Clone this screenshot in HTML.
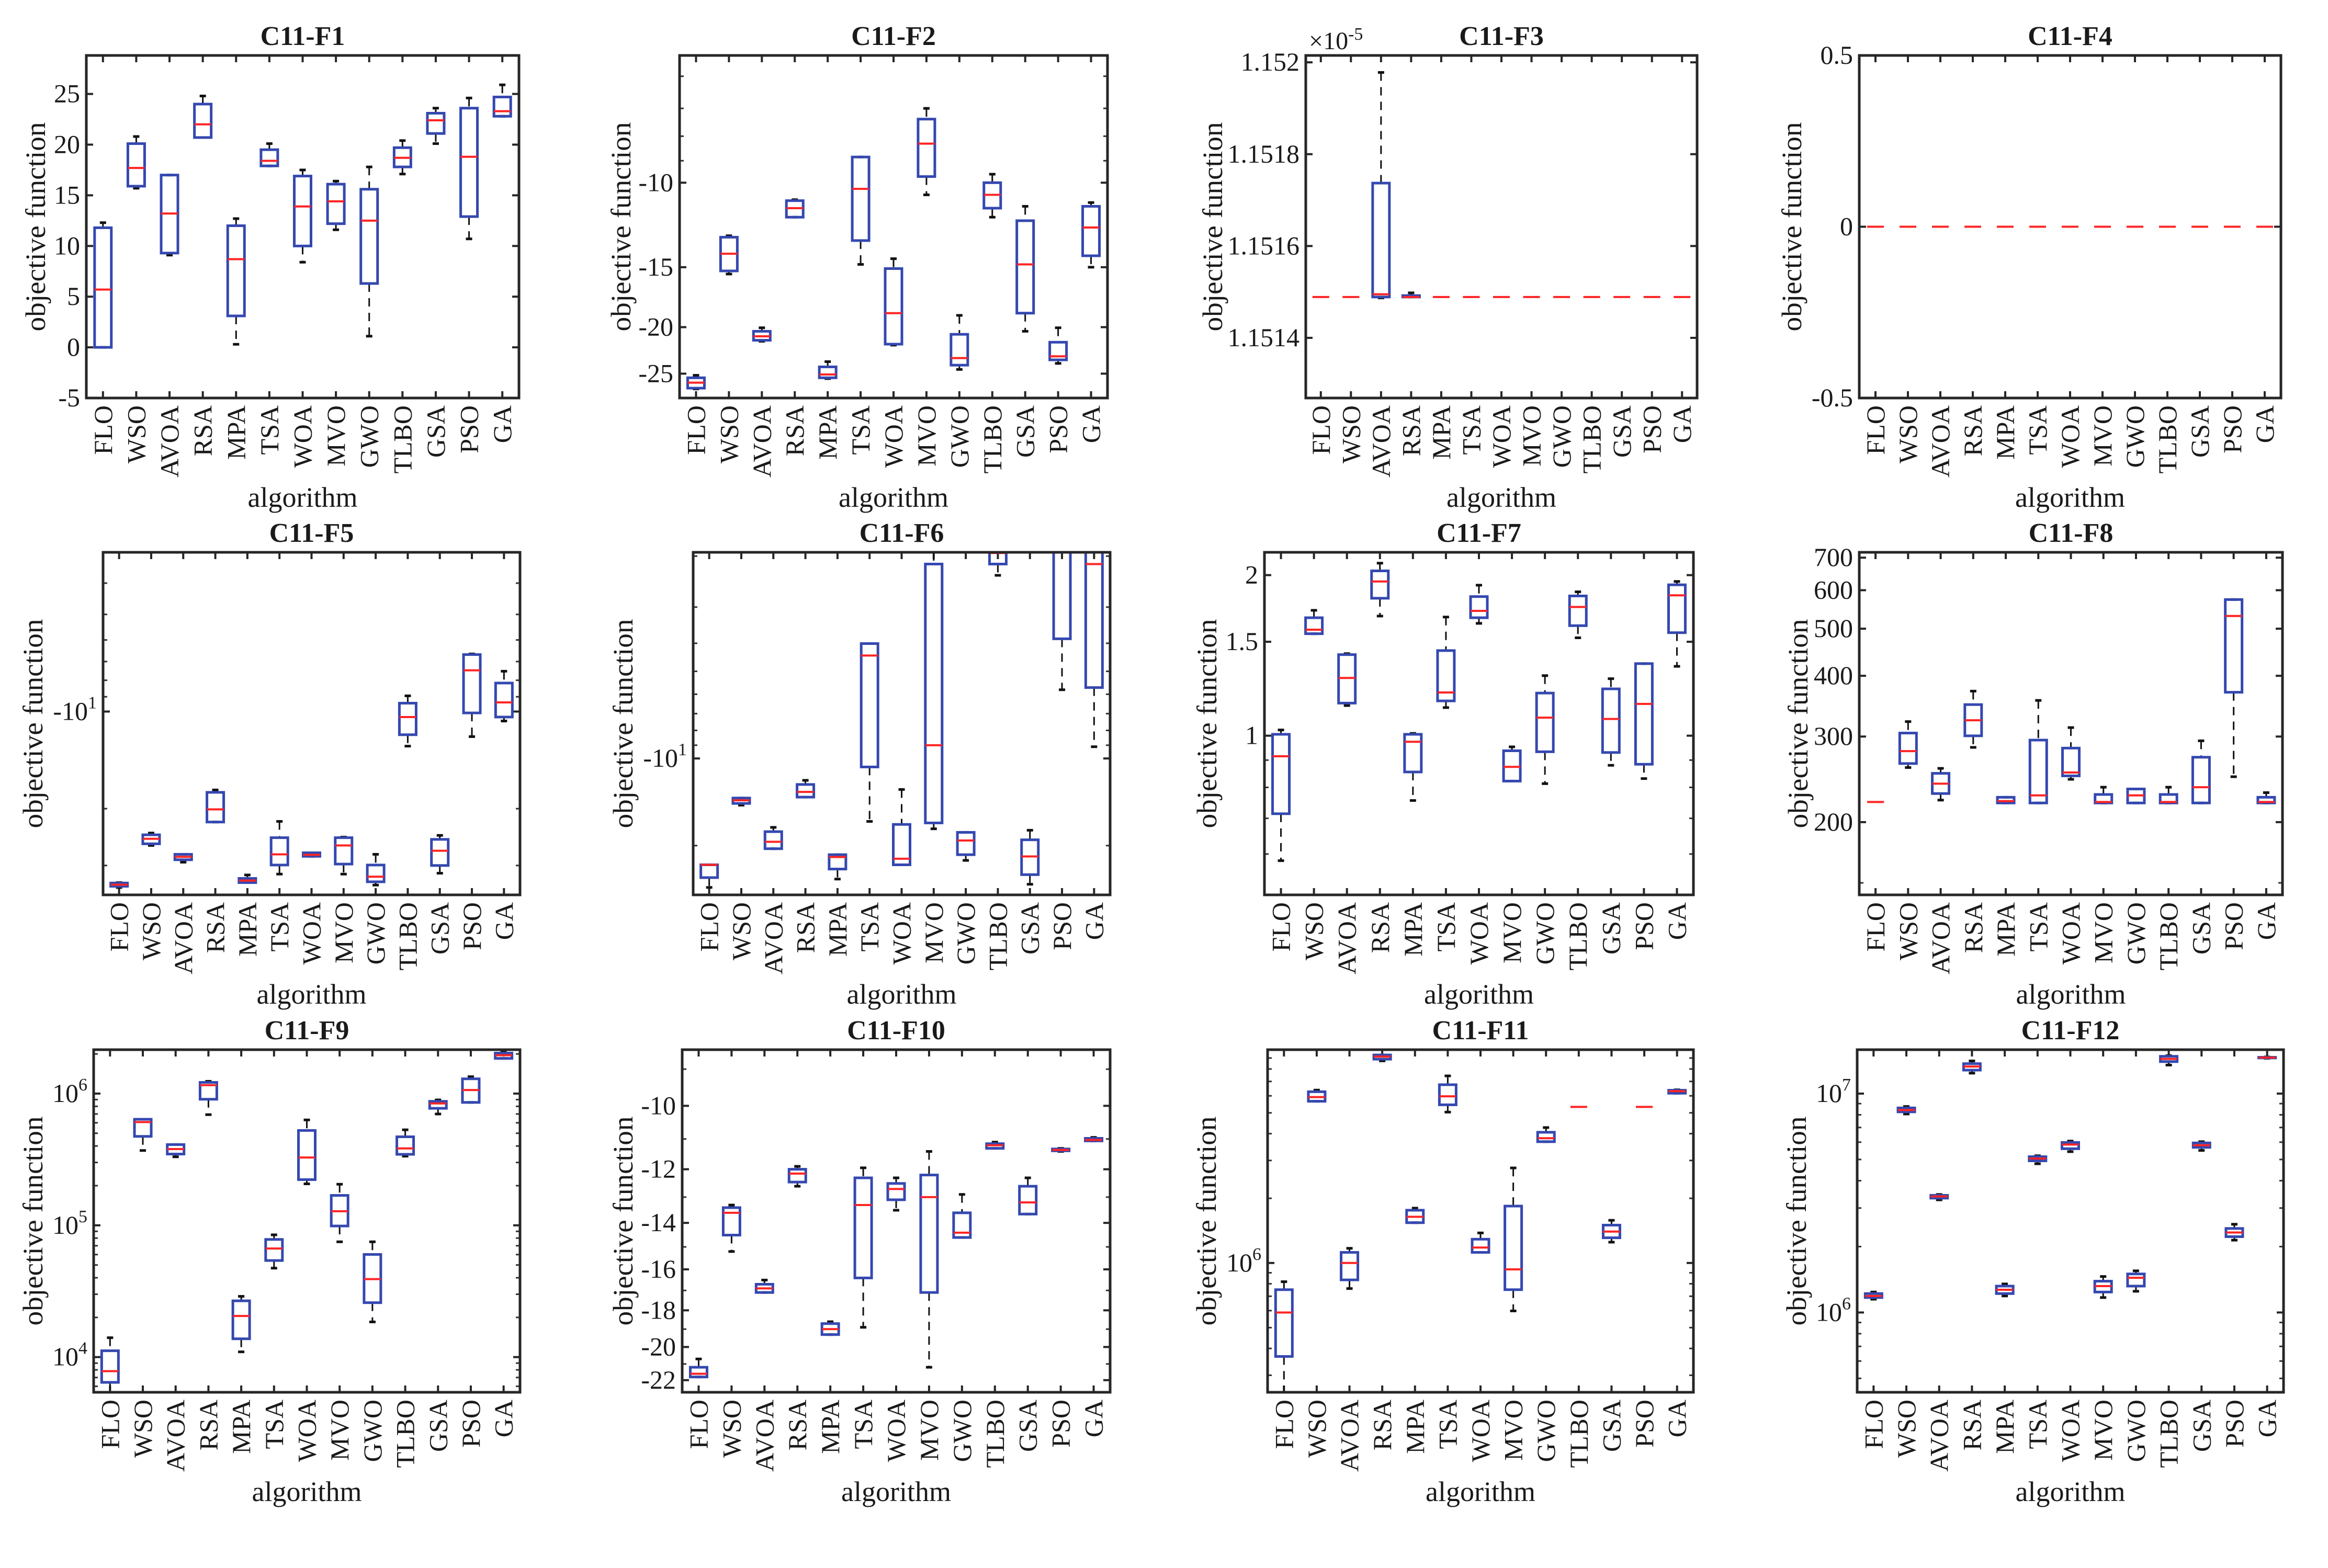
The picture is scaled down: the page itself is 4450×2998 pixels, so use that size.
<!DOCTYPE html>
<html><head><meta charset="utf-8"><style>
html,body{margin:0;padding:0;background:#fff;}
svg{display:block;}
text{font-family:"Liberation Serif",serif;fill:#1a1a1a;}
</style></head><body>
<svg id="fig" xmlns="http://www.w3.org/2000/svg" width="4450" height="2998" viewBox="0 0 4450 2998"></svg>
<script>
const categories=["FLO","WSO","AVOA","RSA","MPA","TSA","WOA","MVO","GWO","TLBO","GSA","PSO","GA"];

// C11-F1
const f1Low=[0,15.7,9.1,20.7,0.3,17.9,8.4,11.6,1.1,17.1,20.1,10.7,22.8];
const f1Q1=[0,15.9,9.3,20.7,3.1,17.9,10,12.2,6.3,17.8,21.1,12.9,22.8];
const f1Med=[5.7,17.7,13.2,22,8.7,18.4,13.9,14.4,12.5,18.7,22.4,18.8,23.3];
const f1Q3=[11.8,20.1,17,24,12,19.5,16.9,16.1,15.6,19.7,23.1,23.6,24.7];
const f1High=[12.3,20.8,17,24.8,12.7,20.1,17.5,16.4,17.8,20.4,23.6,24.6,25.9];
// C11-F2
const f2Low=[-26.9,-15.5,-21.4,-11.8,-25.6,-14.8,-21.8,-10.6,-24.5,-11.8,-20.4,-23.8,-15.0];
const f2Q1=[-26.8,-15.27,-21.3,-11.8,-25.5,-13.2,-21.7,-9.71,-24.0,-11.3,-18.7,-23.4,-14.2];
const f2Med=[-26.1,-14.06,-20.9,-11.3,-25.1,-10.3,-18.7,-8.29,-23.2,-10.6,-14.8,-23.0,-12.4];
const f2Q3=[-25.5,-12.99,-20.4,-10.9,-24.2,-8.84,-15.1,-7.37,-20.7,-10,-12,-21.5,-11.2];
const f2High=[-25.2,-12.9,-20.06,-10.85,-23.6,-8.84,-14.4,-7.0,-18.9,-9.6,-11.2,-20.06,-11.0];
// C11-F3
const f3Low=[1.151489,1.151489,1.151487,1.151489,1.151489,1.151489,1.151489,1.151489,1.151489,1.151489,1.151489,1.151489,1.151489];
const f3Q1=[1.151489,1.151489,1.151489,1.151489,1.151489,1.151489,1.151489,1.151489,1.151489,1.151489,1.151489,1.151489,1.151489];
const f3Med=[1.151489,1.151489,1.151495,1.151489,1.151489,1.151489,1.151489,1.151489,1.151489,1.151489,1.151489,1.151489,1.151489];
const f3Q3=[1.151489,1.151491,1.151737,1.151492,1.151489,1.151489,1.151489,1.151489,1.151489,1.151489,1.151489,1.151489,1.151489];
const f3High=[1.151489,1.151491,1.151978,1.151498,1.151489,1.151489,1.151489,1.151489,1.151489,1.151489,1.151489,1.151489,1.151489];
// C11-F4
const f4Low=[0,0,0,0,0,0,0,0,0,0,0,0,0];
const f4Q1=[0,0,0,0,0,0,0,0,0,0,0,0,0];
const f4Med=[0,0,0,0,0,0,0,0,0,0,0,0,0];
const f4Q3=[0,0,0,0,0,0,0,0,0,0,0,0,0];
const f4High=[0,0,0,0,0,0,0,0,0,0,0,0,0];
// C11-F5
const f5Low=[-35.1,-26.0,-29.3,-22.0,-33.9,-31.9,-28.1,-31.9,-34.5,-12.8,-31.7,-11.96,-10.7];
const f5Q1=[-34.8,-25.7,-28.8,-22.0,-33.9,-29.9,-28.1,-29.7,-33.7,-11.8,-30.0,-10.1,-10.4];
const f5Med=[-34.4,-24.8,-28.2,-20.1,-33.4,-27.7,-27.8,-26.0,-32.5,-10.4,-27.0,-7.45,-9.37];
const f5Q3=[-34.0,-24.1,-27.7,-17.8,-32.9,-24.6,-27.4,-24.6,-29.9,-9.42,-24.9,-6.66,-8.16];
const f5High=[-33.9,-23.8,-27.7,-17.5,-32.1,-21.9,-27.4,-24.5,-27.7,-8.94,-24.2,-6.63,-7.5];
// C11-F6
const f6Low=[-27.9,-14.5,-20.5,-13.6,-26.1,-16.5,-23.3,-17.5,-22.5,-2.33,-27.2,-5.79,-9.11];
const f6Q1=[-25.8,-14.3,-20.5,-13.6,-24.1,-10.7,-23.3,-16.7,-21.5,-2.13,-25.2,-3.86,-5.69];
const f6Med=[-23.3,-13.95,-19.4,-13.05,-21.9,-4.41,-22.2,-9.0,-19.2,-1.95,-21.8,-1.94,-2.13];
const f6Q3=[-23.3,-13.7,-17.9,-12.3,-21.5,-4.01,-16.9,-2.13,-18.0,-1.8,-19.1,-1.8,-1.8];
const f6High=[-23.3,-13.7,-17.3,-11.9,-21.5,-4.01,-12.8,-1.94,-18.0,-1.7,-17.7,-1.7,-1.7];
// C11-F7
const f7Low=[0.583,1.553,1.139,1.676,0.756,1.129,1.624,0.822,0.813,1.526,0.88,0.831,1.349];
const f7Q1=[0.714,1.553,1.151,1.81,0.855,1.162,1.664,0.822,0.933,1.608,0.93,0.884,1.56];
const f7Med=[0.915,1.58,1.283,1.946,0.974,1.205,1.714,0.874,1.081,1.743,1.075,1.147,1.833];
const f7Q3=[1.006,1.664,1.419,2.037,1.006,1.444,1.823,0.937,1.202,1.828,1.224,1.365,1.918];
const f7High=[1.025,1.718,1.425,2.106,1.01,1.669,1.915,0.953,1.296,1.861,1.279,1.365,1.946];
// C11-F8
const f8Low=[220,259,222,285,219,219,245,219,219,219,219,248,219];
const f8Q1=[220,264,229,301,219,219,249,219,219,219,219,370,219];
const f8Med=[220,280,240,324,221,227,253,220,227,220,236,531,220];
const f8Q3=[220,305,252,349,225,295,284,228,234,228,272,574,225];
const f8High=[220,322,258,372,225,356,313,236,234,236,294,574,230];
// C11-F9
const f9Low=[5000,369800,331100,691800,10960,47320,206500,74990,18490,335000,699800,857000,1849000];
const f9Q1=[6430,473200,347500,905700,13770,54080,222300,98860,25880,345900,772700,857000,1849000];
const f9Med=[7820,608100,379300,1159000,20510,66680,327300,127900,39080,383700,841400,1064000,1954000];
const f9Q3=[11170,638300,410200,1216000,26730,78160,524800,168700,60120,469900,873000,1294000,2028000];
const f9High=[14030,638300,410200,1239000,28910,84720,631000,205100,74990,530900,895400,1343000,2089000];
// C11-F10
const f10Low=[-21.8,-15.2,-17.1,-12.6,-19.3,-18.9,-13.5,-21.2,-14.6,-11.3,-13.65,-11.4,-11.06];
const f10Q1=[-21.8,-14.5,-17.1,-12.45,-19.3,-16.4,-13.1,-17.1,-14.6,-11.3,-13.65,-11.38,-11.06];
const f10Med=[-21.6,-13.6,-16.9,-12.15,-19.0,-13.3,-12.7,-13.0,-14.4,-11.2,-13.2,-11.35,-11.03];
const f10Q3=[-21.2,-13.4,-16.7,-12.0,-18.7,-12.3,-12.5,-12.2,-13.6,-11.15,-12.6,-11.32,-10.98];
const f10High=[-20.7,-13.3,-16.5,-11.9,-18.6,-11.95,-12.3,-11.4,-12.9,-11.1,-12.3,-11.3,-10.95];
// C11-F11
const f11Low=[250000,5660000,760000,8730000,1540000,5040000,1120000,598000,3670000,5330000,1250000,5330000,6170000];
const f11Q1=[367000,5660000,834000,8890000,1540000,5450000,1120000,751000,3670000,5330000,1310000,5330000,6170000];
const f11Med=[588000,5920000,1000000,9140000,1640000,5970000,1180000,934000,3810000,5330000,1400000,5330000,6310000];
const f11Q3=[751000,6270000,1120000,9300000,1760000,6760000,1290000,1840000,4060000,5330000,1500000,5330000,6370000];
const f11High=[818000,6380000,1170000,9300000,1800000,7430000,1380000,2770000,4270000,5330000,1580000,5330000,6400000];
// C11-F12
const f12Low=[1150000,8070000,3270000,12400000,1190000,4780000,5430000,1170000,1250000,13500000,5500000,2140000,14500000];
const f12Q1=[1170000,8250000,3330000,12800000,1220000,4930000,5600000,1240000,1320000,14000000,5680000,2220000,14550000];
const f12Med=[1190000,8410000,3390000,13300000,1270000,5050000,5850000,1320000,1440000,14400000,5810000,2320000,14600000];
const f12Q3=[1220000,8600000,3430000,13700000,1320000,5150000,5980000,1390000,1500000,14800000,5950000,2420000,14650000];
const f12High=[1240000,8730000,3460000,14100000,1350000,5200000,6070000,1460000,1550000,14900000,6030000,2530000,14700000];

// tick values / labels
const f1Ticks=[-5,0,5,10,15,20,25];
const f2Ticks=[-25,-20,-15,-10];
const f2Minor=[-9,-8,-7,-6];
const f3Ticks=[1.1514,1.1516,1.1518,1.152];
const f3Labels=["1.1514","1.1516","1.1518","1.152"];
const f4Ticks=[-0.5,0,0.5];
const f5Minor=[-4,-5,-6,-7,-8,-9,-20,-30];
const f6Minor=[-2,-3,-4,-5,-6,-7,-8,-9,-20];
const f7Ticks=[1,1.5,2];
const f7Minor=[0.6,0.7,0.8,0.9];
const f8Ticks=[200,300,400,500,600,700];
const f9Ticks=[1e4,1e5,1e6];
const f9Exp=["4","5","6"];
const f10Ticks=[-22,-20,-18,-16,-14,-12,-10];
const f11Ticks=[1e6];
const f11Exp=["6"];
const f12Ticks=[1e6,1e7];
const f12Exp=["6","7"];

const NS="http://www.w3.org/2000/svg";
const svg=document.getElementById('fig');
function mk(tag,attrs,parent){const e=document.createElementNS(NS,tag);for(const k in attrs)e.setAttribute(k,attrs[k]);(parent||svg).appendChild(e);return e;}
function logMinor(lo,hi){const r=[];for(let d=Math.floor(Math.log10(lo));d<=Math.ceil(Math.log10(hi));d++){for(let m=2;m<=9;m++){const v=m*Math.pow(10,d);if(v>lo&&v<hi)r.push(v);}}return r;}

const rows=[106,1056,2007];const H=655;
const panels=[
 {t:"C11-F1",x0:165,x1:992,r:0,sc:"lin",lo:-5,hi:28.8,d:[f1Low,f1Q1,f1Med,f1Q3,f1High],ticks:f1Ticks,labels:f1Ticks.map(String),minor:[],yl:97},
 {t:"C11-F2",x0:1299,x1:2117,r:0,sc:"neg",lo:-28.1,hi:-5.43,d:[f2Low,f2Q1,f2Med,f2Q3,f2High],ticks:f2Ticks,labels:f2Ticks.map(String),minor:f2Minor,yl:112},
 {t:"C11-F3",x0:2496,x1:3244,r:0,sc:"lin",lo:1.151269,hi:1.152015,d:[f3Low,f3Q1,f3Med,f3Q3,f3High],ticks:f3Ticks,labels:f3Labels,minor:[],yl:178,exp:true},
 {t:"C11-F4",x0:3554,x1:4360,r:0,sc:"lin",lo:-0.5,hi:0.5,d:[f4Low,f4Q1,f4Med,f4Q3,f4High],ticks:f4Ticks,labels:f4Ticks.map(String),minor:[],yl:129},
 {t:"C11-F5",x0:197,x1:994,r:1,sc:"neg",lo:-37.0,hi:-3.21,d:[f5Low,f5Q1,f5Med,f5Q3,f5High],ticks:[-10],labels:null,negExp:true,minor:f5Minor,yl:134},
 {t:"C11-F6",x0:1325,x1:2122,r:1,sc:"neg",lo:-29.6,hi:-1.94,d:[f6Low,f6Q1,f6Med,f6Q3,f6High],ticks:[-10],labels:null,negExp:true,minor:f6Minor,yl:134},
 {t:"C11-F7",x0:2417,x1:3237,r:1,sc:"log",lo:0.503,hi:2.207,d:[f7Low,f7Q1,f7Med,f7Q3,f7High],ticks:f7Ticks,labels:f7Ticks.map(String),minor:f7Minor,yl:110},
 {t:"C11-F8",x0:3554,x1:4363,r:1,sc:"log",lo:141.7,hi:718,d:[f8Low,f8Q1,f8Med,f8Q3,f8High],ticks:f8Ticks,labels:f8Ticks.map(String),minor:[150],yl:117},
 {t:"C11-F9",x0:179,x1:994,r:2,sc:"log",lo:5408,hi:2153000,d:[f9Low,f9Q1,f9Med,f9Q3,f9High],ticks:f9Ticks,exps:f9Exp,minor:logMinor(5408,2153000),yl:116},
 {t:"C11-F10",x0:1304,x1:2122,r:2,sc:"neg",lo:-22.78,hi:-8.51,d:[f10Low,f10Q1,f10Med,f10Q3,f10High],ticks:f10Ticks,labels:f10Ticks.map(String),minor:[-9,-11,-13,-15,-17,-19,-21],yl:113},
 {t:"C11-F11",x0:2423,x1:3237,r:2,sc:"log",lo:250000,hi:9840000,d:[f11Low,f11Q1,f11Med,f11Q3,f11High],ticks:f11Ticks,exps:f11Exp,minor:logMinor(250000,9840000),yl:117},
 {t:"C11-F12",x0:3550,x1:4365,r:2,sc:"log",lo:432000,hi:15870000,d:[f12Low,f12Q1,f12Med,f12Q3,f12High],ticks:f12Ticks,exps:f12Exp,minor:logMinor(432000,15870000),yl:116}
];

panels.forEach((p,pi)=>{
  const y0=rows[p.r],y1=y0+H,x0=p.x0,x1=p.x1,W=x1-x0;
  const tf=v=>p.sc==="lin"?v:(p.sc==="log"?Math.log10(v):-Math.log10(-v));
  const tlo=tf(p.lo),thi=tf(p.hi);
  const Y=v=>y1-(tf(v)-tlo)/(thi-tlo)*H;
  const X=i=>x0+(i+0.5)*W/categories.length;
  const g=mk('g',{});
  
  
  const cp=mk('clipPath',{id:'cp'+pi},g);
  mk('rect',{x:x0,y:y0,width:W,height:H},cp);
  const tt=mk('text',{x:(x0+x1)/2,y:y0-20,'text-anchor':'middle','font-size':52,'font-weight':'bold'},g);
  tt.textContent=p.t;
  
  
  if(p.exp){const e=mk('text',{x:x0+6,y:y0-12,'font-size':48},g);e.textContent='×10';const s=mk('tspan',{'baseline-shift':'super','font-size':34},e);s.textContent='-5';
    }
  p.minor.forEach(v=>{const yy=Y(v);if(yy<=y0||yy>=y1)return;
    mk('line',{x1:x0,x2:x0+8,y1:yy,y2:yy,stroke:'#333','stroke-width':3},g);
    mk('line',{x1:x1-8,x2:x1,y1:yy,y2:yy,stroke:'#333','stroke-width':3},g);});
  p.ticks.forEach((v,i)=>{const yy=Y(v);
    mk('line',{x1:x0,x2:x0+13,y1:yy,y2:yy,stroke:'#262626','stroke-width':4},g);
    mk('line',{x1:x1-13,x2:x1,y1:yy,y2:yy,stroke:'#262626','stroke-width':4},g);
    const lt=mk('text',{x:x0-12,y:yy+16,'text-anchor':'end','font-size':50},g);
    
    
    if(p.exps){lt.textContent='10';const s=mk('tspan',{dy:-22,'font-size':34},lt);s.textContent=p.exps[i];}
    else if(p.negExp){lt.textContent='-10';const s=mk('tspan',{dy:-22,'font-size':34},lt);s.textContent='1';}
    else lt.textContent=p.labels[i];
  });
  categories.forEach((c,i)=>{const xx=X(i);
    mk('line',{x1:xx,x2:xx,y1:y1,y2:y1-13,stroke:'#262626','stroke-width':4},g);
    mk('line',{x1:xx,x2:xx,y1:y0,y2:y0+13,stroke:'#262626','stroke-width':4},g);
    const lt=mk('text',{x:0,y:0,'text-anchor':'end','font-size':50,transform:`translate(${xx+17},${y1+14}) rotate(-90)`},g);
    lt.textContent=c;
    
    
  });
  const bg=mk('g',{'clip-path':`url(#cp${pi})`},g);
  const [lo,q1,md,q3,hi]=p.d;
  categories.forEach((c,i)=>{const xx=X(i),bw=16;
    const b=mk('g',{},bg);
    
    
    const yh=Y(hi[i]),yq3=Y(q3[i]),ym=Y(md[i]),yq1=Y(q1[i]),yl=Y(lo[i]);
    if(yq3-yh>1)mk('line',{x1:xx,x2:xx,y1:yh,y2:yq3,stroke:'#111','stroke-width':3,'stroke-dasharray':'16 12'},b);
    if(yl-yq1>1)mk('line',{x1:xx,x2:xx,y1:yq1,y2:yl,stroke:'#111','stroke-width':3,'stroke-dasharray':'16 12'},b);
    const same=Math.abs(yl-yh)<2;
    if(!same){
      mk('line',{x1:xx-6,x2:xx+6,y1:yh,y2:yh,stroke:'#111','stroke-width':5},b);
      mk('line',{x1:xx-6,x2:xx+6,y1:yl,y2:yl,stroke:'#111','stroke-width':5},b);
      mk('rect',{x:xx-bw,y:yq3,width:2*bw,height:Math.max(yq1-yq3,0.5),fill:'none',stroke:'#3448b0','stroke-width':5},b);
    }
    mk('line',{x1:xx-bw,x2:xx+bw,y1:ym,y2:ym,stroke:'#ff2424','stroke-width':4},b);
  });
  const fr=mk('rect',{x:x0,y:y0,width:W,height:H,fill:'none',stroke:'#262626','stroke-width':5},g);
  
  
  const yl=mk('text',{x:0,y:0,'text-anchor':'middle','font-size':54,textLength:400,lengthAdjust:'spacingAndGlyphs',transform:`translate(${x0-p.yl+18},${y0+H/2}) rotate(-90)`},g);
  yl.textContent='objective function';
  
  
  const xl=mk('text',{x:(x0+x1)/2,y:y1+208,'text-anchor':'middle','font-size':54},g);
  xl.textContent='algorithm';
  
  
});
</script>
</body></html>
